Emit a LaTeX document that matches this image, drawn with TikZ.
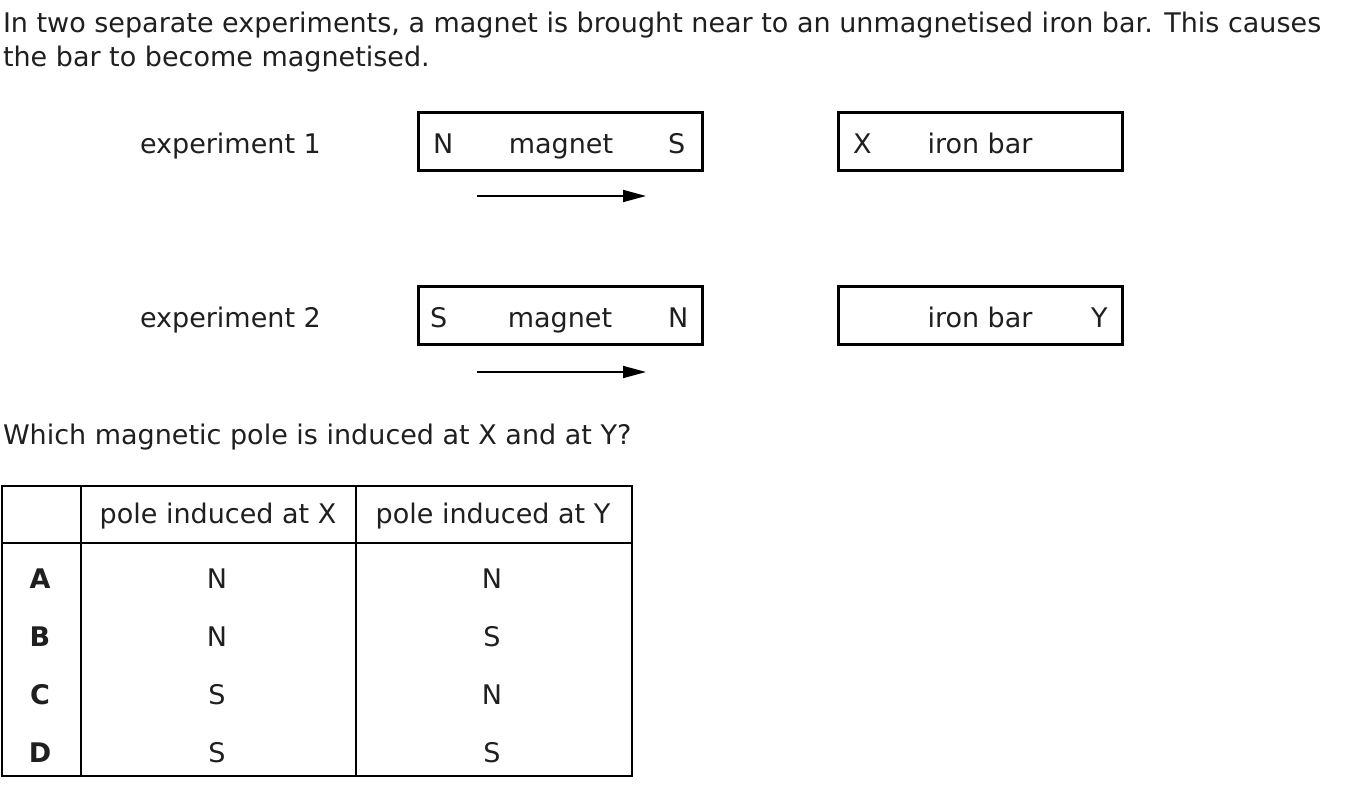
\documentclass[tikz,border=0pt]{standalone}
\usepackage{fontspec}
\setmainfont{DejaVu Sans}
\usetikzlibrary{arrows.meta}
\begin{document}
\begin{tikzpicture}[x=1pt,y=-1pt,
  txt/.style={inner sep=0pt,outer sep=0pt,font=\fontsize{27}{32}\selectfont,text=black!88},
  bar/.style={draw,line width=3pt,minimum width=284pt,minimum height=58pt,inner sep=0pt},
  motion/.style={line width=1.8pt,-{Triangle[length=23pt,width=12pt]}},
  grid/.style={line width=1.8pt}]
\useasboundingbox (0,0) rectangle (1354,787);
% intro
\node[txt,anchor=base west] (l1) at (3,32) {In two separate experiments, a magnet is brought near to an unmagnetised iron bar. This causes};
\node[txt,anchor=base west] (l2) at (3,66) {the bar to become magnetised.};
% experiment 1
\node[txt,anchor=base west] (e1) at (140,153) {experiment 1};
\node[bar] (m1) at (560,141) {};
\node[txt,anchor=base west] (m1n) at (433,153) {N};
\node[txt,anchor=base] (m1t) at (561,153) {magnet};
\node[txt,anchor=base west] (m1s) at (668,153) {S};
\node[bar] (b1) at (980,141) {};
\node[txt,anchor=base west] (b1x) at (853,153) {X};
\node[txt,anchor=base] (b1t) at (980,153) {iron bar};
\coordinate (a1s) at (477,196);
\coordinate (a1e) at (646,196);
\draw[motion] (a1s) -- (a1e);
% experiment 2
\node[txt,anchor=base west] (e2) at (140,327) {experiment 2};
\node[bar] (m2) at (560,315) {};
\node[txt,anchor=base west] (m2s) at (430,327) {S};
\node[txt,anchor=base] (m2t) at (560,327) {magnet};
\node[txt,anchor=base west] (m2n) at (668,327) {N};
\node[bar] (b2) at (980,315) {};
\node[txt,anchor=base] (b2t) at (980,327) {iron bar};
\node[txt,anchor=base west] (b2y) at (1091,327) {Y};
\coordinate (a2s) at (477,372);
\coordinate (a2e) at (646,372);
\draw[motion] (a2s) -- (a2e);
% question
\node[txt,anchor=base west] (q) at (3,444) {Which magnetic pole is induced at X and at Y?};
% table
\draw[grid] (2,486) rectangle (632,776);
\draw[grid] (2,543) -- (632,543);
\draw[grid] (81,486) -- (81,776);
\draw[grid] (356,486) -- (356,776);
\node[txt,anchor=base] (hx) at (218,523) {pole induced at X};
\node[txt,anchor=base] (hy) at (493,523) {pole induced at Y};
\foreach \L/\X/\Y/\yy in {A/N/N/588,B/N/S/646,C/S/N/704,D/S/S/762}{
  \node[txt,anchor=base,font=\fontsize{27}{32}\selectfont\bfseries] (r\L) at (40,\yy) {\L};
  \node[txt,anchor=base] (x\L) at (217,\yy) {\X};
  \node[txt,anchor=base] (y\L) at (492,\yy) {\Y};
}
\end{tikzpicture}
\end{document}
